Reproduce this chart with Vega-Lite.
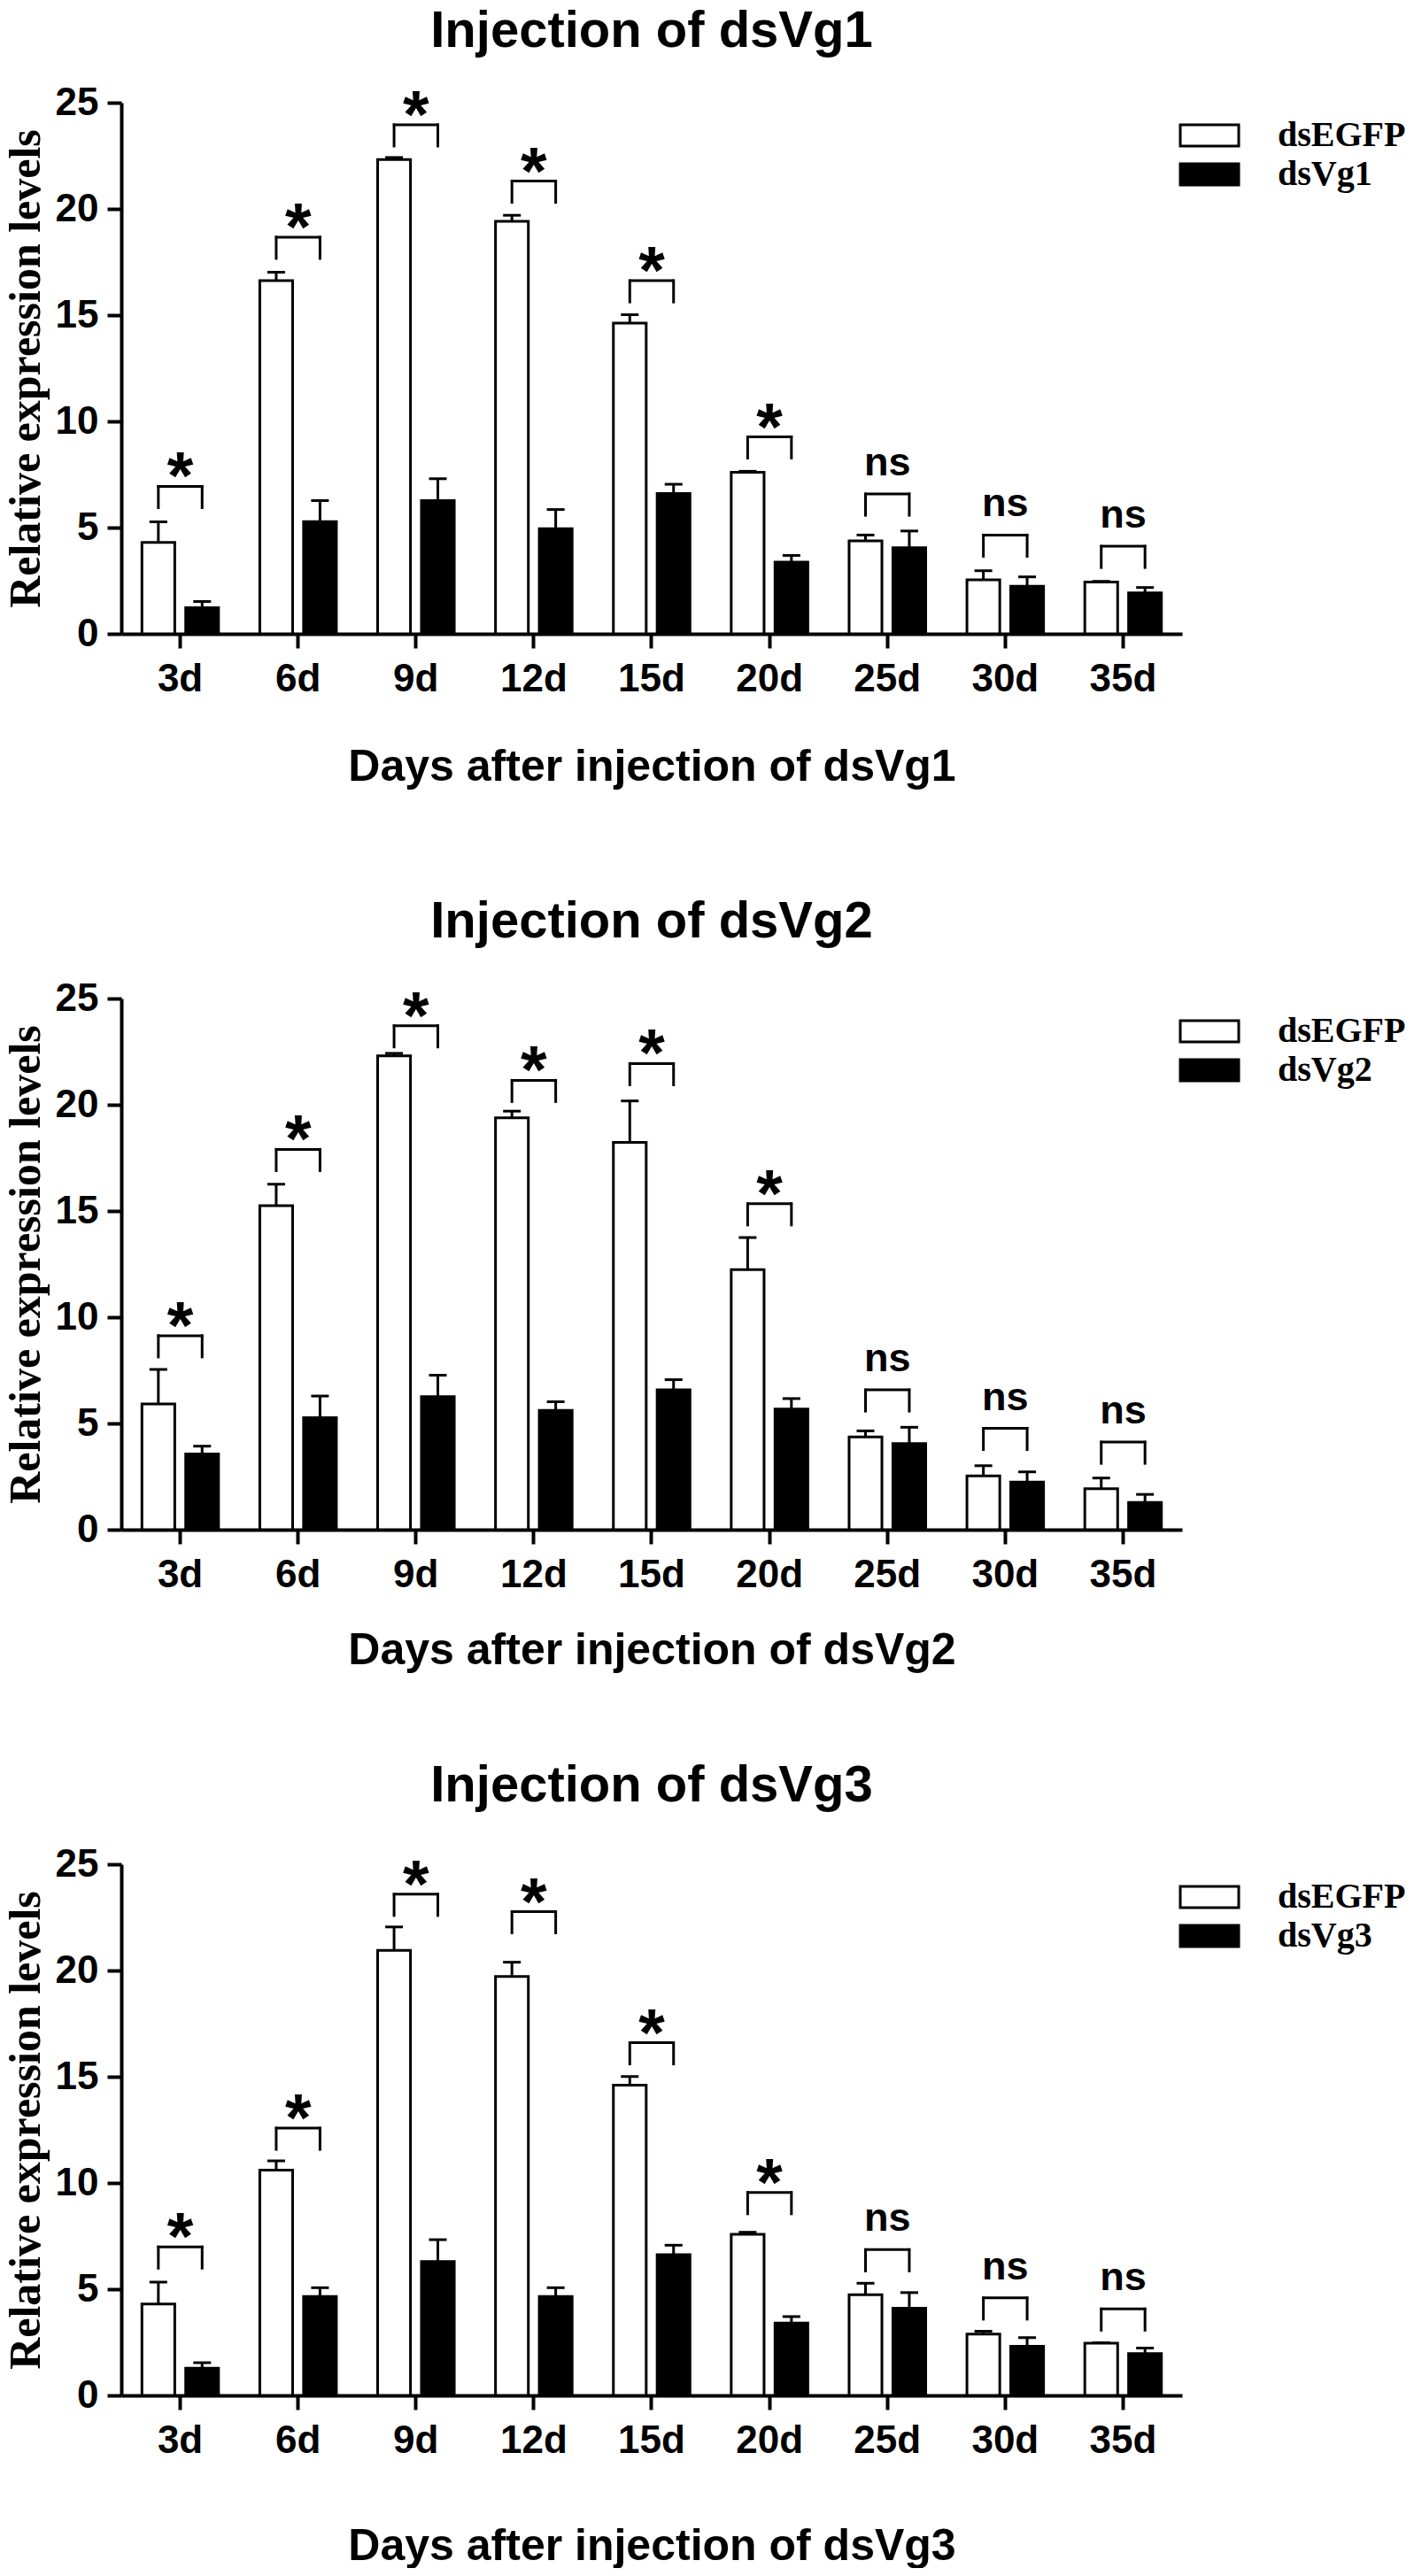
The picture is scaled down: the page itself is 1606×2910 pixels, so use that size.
{
  "$schema": "https://vega.github.io/schema/vega-lite/v6.json",
  "background": "white",
  "padding": {"left": 4, "top": 6, "right": 0, "bottom": 0},
  "datasets": {
    "vg1": [
      {"day": "3d", "treatment": "dsEGFP", "value": 4.3, "upper": 5.27},
      {"day": "3d", "treatment": "dsVg1", "value": 1.23, "upper": 1.52},
      {"day": "6d", "treatment": "dsEGFP", "value": 16.62, "upper": 17.02},
      {"day": "6d", "treatment": "dsVg1", "value": 5.28, "upper": 6.27},
      {"day": "9d", "treatment": "dsEGFP", "value": 22.32, "upper": 22.42},
      {"day": "9d", "treatment": "dsVg1", "value": 6.27, "upper": 7.3},
      {"day": "12d", "treatment": "dsEGFP", "value": 19.42, "upper": 19.7},
      {"day": "12d", "treatment": "dsVg1", "value": 4.95, "upper": 5.85},
      {"day": "15d", "treatment": "dsEGFP", "value": 14.63, "upper": 15.02},
      {"day": "15d", "treatment": "dsVg1", "value": 6.6, "upper": 7.04},
      {"day": "20d", "treatment": "dsEGFP", "value": 7.6, "upper": 7.65},
      {"day": "20d", "treatment": "dsVg1", "value": 3.37, "upper": 3.69},
      {"day": "25d", "treatment": "dsEGFP", "value": 4.38, "upper": 4.65},
      {"day": "25d", "treatment": "dsVg1", "value": 4.05, "upper": 4.84},
      {"day": "30d", "treatment": "dsEGFP", "value": 2.54, "upper": 2.97},
      {"day": "30d", "treatment": "dsVg1", "value": 2.24, "upper": 2.68},
      {"day": "35d", "treatment": "dsEGFP", "value": 2.44, "upper": 2.47},
      {"day": "35d", "treatment": "dsVg1", "value": 1.93, "upper": 2.18}
    ],
    "sig1": [
      {"day": "3d", "bracket": 6.94, "label": "*"},
      {"day": "6d", "bracket": 18.67, "label": "*"},
      {"day": "9d", "bracket": 23.96, "label": "*"},
      {"day": "12d", "bracket": 21.31, "label": "*"},
      {"day": "15d", "bracket": 16.62, "label": "*"},
      {"day": "20d", "bracket": 9.27, "label": "*"},
      {"day": "25d", "bracket": 6.58, "label": "ns"},
      {"day": "30d", "bracket": 4.65, "label": "ns"},
      {"day": "35d", "bracket": 4.12, "label": "ns"}
    ],
    "vg2": [
      {"day": "3d", "treatment": "dsEGFP", "value": 5.92, "upper": 7.54},
      {"day": "3d", "treatment": "dsVg2", "value": 3.56, "upper": 3.93},
      {"day": "6d", "treatment": "dsEGFP", "value": 15.25, "upper": 16.26},
      {"day": "6d", "treatment": "dsVg2", "value": 5.27, "upper": 6.29},
      {"day": "9d", "treatment": "dsEGFP", "value": 22.3, "upper": 22.42},
      {"day": "9d", "treatment": "dsVg2", "value": 6.26, "upper": 7.27},
      {"day": "12d", "treatment": "dsEGFP", "value": 19.39, "upper": 19.7},
      {"day": "12d", "treatment": "dsVg2", "value": 5.61, "upper": 6.02},
      {"day": "15d", "treatment": "dsEGFP", "value": 18.23, "upper": 20.18},
      {"day": "15d", "treatment": "dsVg2", "value": 6.58, "upper": 7.06},
      {"day": "20d", "treatment": "dsEGFP", "value": 12.24, "upper": 13.75},
      {"day": "20d", "treatment": "dsVg2", "value": 5.68, "upper": 6.17},
      {"day": "25d", "treatment": "dsEGFP", "value": 4.36, "upper": 4.65},
      {"day": "25d", "treatment": "dsVg2", "value": 4.05, "upper": 4.82},
      {"day": "30d", "treatment": "dsEGFP", "value": 2.53, "upper": 3.01},
      {"day": "30d", "treatment": "dsVg2", "value": 2.24, "upper": 2.72},
      {"day": "35d", "treatment": "dsEGFP", "value": 1.93, "upper": 2.43},
      {"day": "35d", "treatment": "dsVg2", "value": 1.28, "upper": 1.66}
    ],
    "sig2": [
      {"day": "3d", "bracket": 9.13, "label": "*"},
      {"day": "6d", "bracket": 17.9, "label": "*"},
      {"day": "9d", "bracket": 23.72, "label": "*"},
      {"day": "12d", "bracket": 21.15, "label": "*"},
      {"day": "15d", "bracket": 21.94, "label": "*"},
      {"day": "20d", "bracket": 15.34, "label": "*"},
      {"day": "25d", "bracket": 6.58, "label": "ns"},
      {"day": "30d", "bracket": 4.77, "label": "ns"},
      {"day": "35d", "bracket": 4.12, "label": "ns"}
    ],
    "vg3": [
      {"day": "3d", "treatment": "dsEGFP", "value": 4.3, "upper": 5.33},
      {"day": "3d", "treatment": "dsVg3", "value": 1.28, "upper": 1.54},
      {"day": "6d", "treatment": "dsEGFP", "value": 10.6, "upper": 11.04},
      {"day": "6d", "treatment": "dsVg3", "value": 4.66, "upper": 5.07},
      {"day": "9d", "treatment": "dsEGFP", "value": 20.95, "upper": 22.05},
      {"day": "9d", "treatment": "dsVg3", "value": 6.3, "upper": 7.33},
      {"day": "12d", "treatment": "dsEGFP", "value": 19.72, "upper": 20.39},
      {"day": "12d", "treatment": "dsVg3", "value": 4.66, "upper": 5.07},
      {"day": "15d", "treatment": "dsEGFP", "value": 14.6, "upper": 15.01},
      {"day": "15d", "treatment": "dsVg3", "value": 6.63, "upper": 7.07},
      {"day": "20d", "treatment": "dsEGFP", "value": 7.58, "upper": 7.68},
      {"day": "20d", "treatment": "dsVg3", "value": 3.41, "upper": 3.71},
      {"day": "25d", "treatment": "dsEGFP", "value": 4.74, "upper": 5.28},
      {"day": "25d", "treatment": "dsVg3", "value": 4.1, "upper": 4.84},
      {"day": "30d", "treatment": "dsEGFP", "value": 2.89, "upper": 3.02},
      {"day": "30d", "treatment": "dsVg3", "value": 2.31, "upper": 2.72},
      {"day": "35d", "treatment": "dsEGFP", "value": 2.46, "upper": 2.48},
      {"day": "35d", "treatment": "dsVg3", "value": 1.97, "upper": 2.23}
    ],
    "sig3": [
      {"day": "3d", "bracket": 6.99, "label": "*"},
      {"day": "6d", "bracket": 12.58, "label": "*"},
      {"day": "9d", "bracket": 23.59, "label": "*"},
      {"day": "12d", "bracket": 22.77, "label": "*"},
      {"day": "15d", "bracket": 16.6, "label": "*"},
      {"day": "20d", "bracket": 9.55, "label": "*"},
      {"day": "25d", "bracket": 6.86, "label": "ns"},
      {"day": "30d", "bracket": 4.59, "label": "ns"},
      {"day": "35d", "bracket": 4.07, "label": "ns"}
    ]
  },
  "spacing": 99,
  "resolve": {"scale": {"fill": "independent", "xOffset": "independent"}, "legend": {"fill": "independent"}},
  "vconcat": [
    {
      "spacing": 121,
      "resolve": {"scale": {"fill": "independent", "xOffset": "independent"}, "legend": {"fill": "independent"}},
      "vconcat": [
        {
          "width": 1198,
          "height": 600,
          "title": {"text": "Injection of dsVg1", "frame": "group", "anchor": "middle", "offset": 29},
          "encoding": {
            "x": {
              "field": "day", "type": "nominal",
              "scale": {"domain": ["3d", "6d", "9d", "12d", "15d", "20d", "25d", "30d", "35d"], "paddingInner": 0.35, "paddingOuter": 0.175},
              "axis": {"title": "Days after injection of dsVg1", "titlePadding": 52}
            }
          },
          "layer": [
            {
              "data": {"name": "vg1"},
              "mark": {"type": "bar", "stroke": "black", "strokeWidth": 3},
              "encoding": {
                "xOffset": {"field": "treatment", "type": "nominal", "scale": {"domain": ["dsEGFP", "dsVg1"], "paddingInner": 0.25}},
                "y": {"field": "value", "type": "quantitative", "title": "Relative expression levels", "scale": {"domain": [0, 25]}, "axis": {"values": [0, 5, 10, 15, 20, 25]}},
                "fill": {"field": "treatment", "type": "nominal", "scale": {"domain": ["dsEGFP", "dsVg1"], "range": ["white", "black"]}, "legend": {"title": null}}
              }
            },
            {
              "data": {"name": "vg1"},
              "mark": {"type": "rule", "strokeWidth": 3, "color": "black"},
              "encoding": {
                "xOffset": {"field": "treatment", "type": "nominal", "scale": {"domain": ["dsEGFP", "dsVg1"], "paddingInner": 0.25}},
                "y": {"field": "value", "type": "quantitative", "title": "Relative expression levels", "scale": {"domain": [0, 25]}},
                "y2": {"field": "upper"}
              }
            },
            {
              "data": {"name": "vg1"},
              "mark": {"type": "tick", "size": 20, "thickness": 3, "color": "black", "opacity": 1},
              "encoding": {
                "xOffset": {"field": "treatment", "type": "nominal", "scale": {"domain": ["dsEGFP", "dsVg1"], "paddingInner": 0.25}},
                "y": {"field": "upper", "type": "quantitative", "title": "Relative expression levels", "scale": {"domain": [0, 25]}}
              }
            },
            {
              "data": {"name": "vg1"},
              "transform": [{"lookup": "day", "from": {"data": {"name": "sig1"}, "key": "day", "fields": ["bracket"]}}],
              "mark": {"type": "tick", "orient": "vertical", "size": 27, "thickness": 3, "yOffset": 12, "color": "black", "opacity": 1},
              "encoding": {
                "xOffset": {"field": "treatment", "type": "nominal", "scale": {"domain": ["dsEGFP", "dsVg1"], "paddingInner": 0.25}},
                "y": {"field": "bracket", "type": "quantitative", "title": "Relative expression levels", "scale": {"domain": [0, 25]}}
              }
            },
            {
              "data": {"name": "sig1"},
              "mark": {"type": "tick", "size": 52, "thickness": 3, "color": "black", "opacity": 1},
              "encoding": {
                "y": {"field": "bracket", "type": "quantitative", "title": "Relative expression levels", "scale": {"domain": [0, 25]}}
              }
            },
            {
              "data": {"name": "sig1"},
              "transform": [{"filter": "datum.label == '*'"}],
              "mark": {"type": "text", "font": "Liberation Sans", "fontWeight": "bold", "fontSize": 76, "baseline": "alphabetic", "dy": 14, "color": "black"},
              "encoding": {
                "y": {"field": "bracket", "type": "quantitative", "title": "Relative expression levels", "scale": {"domain": [0, 25]}},
                "text": {"field": "label"}
              }
            },
            {
              "data": {"name": "sig1"},
              "transform": [{"filter": "datum.label == 'ns'"}],
              "mark": {"type": "text", "font": "Liberation Sans", "fontWeight": "bold", "fontSize": 45, "baseline": "alphabetic", "dy": -21, "color": "black"},
              "encoding": {
                "y": {"field": "bracket", "type": "quantitative", "title": "Relative expression levels", "scale": {"domain": [0, 25]}},
                "text": {"field": "label"}
              }
            }
          ]
        },
        {
          "width": 1198,
          "height": 600,
          "title": {"text": "Injection of dsVg2", "frame": "group", "anchor": "middle", "offset": 35.5},
          "encoding": {
            "x": {
              "field": "day", "type": "nominal",
              "scale": {"domain": ["3d", "6d", "9d", "12d", "15d", "20d", "25d", "30d", "35d"], "paddingInner": 0.35, "paddingOuter": 0.175},
              "axis": {"title": "Days after injection of dsVg2", "titlePadding": 38.5}
            }
          },
          "layer": [
            {
              "data": {"name": "vg2"},
              "mark": {"type": "bar", "stroke": "black", "strokeWidth": 3},
              "encoding": {
                "xOffset": {"field": "treatment", "type": "nominal", "scale": {"domain": ["dsEGFP", "dsVg2"], "paddingInner": 0.25}},
                "y": {"field": "value", "type": "quantitative", "title": "Relative expression levels", "scale": {"domain": [0, 25]}, "axis": {"values": [0, 5, 10, 15, 20, 25]}},
                "fill": {"field": "treatment", "type": "nominal", "scale": {"domain": ["dsEGFP", "dsVg2"], "range": ["white", "black"]}, "legend": {"title": null}}
              }
            },
            {
              "data": {"name": "vg2"},
              "mark": {"type": "rule", "strokeWidth": 3, "color": "black"},
              "encoding": {
                "xOffset": {"field": "treatment", "type": "nominal", "scale": {"domain": ["dsEGFP", "dsVg2"], "paddingInner": 0.25}},
                "y": {"field": "value", "type": "quantitative", "title": "Relative expression levels", "scale": {"domain": [0, 25]}},
                "y2": {"field": "upper"}
              }
            },
            {
              "data": {"name": "vg2"},
              "mark": {"type": "tick", "size": 20, "thickness": 3, "color": "black", "opacity": 1},
              "encoding": {
                "xOffset": {"field": "treatment", "type": "nominal", "scale": {"domain": ["dsEGFP", "dsVg2"], "paddingInner": 0.25}},
                "y": {"field": "upper", "type": "quantitative", "title": "Relative expression levels", "scale": {"domain": [0, 25]}}
              }
            },
            {
              "data": {"name": "vg2"},
              "transform": [{"lookup": "day", "from": {"data": {"name": "sig2"}, "key": "day", "fields": ["bracket"]}}],
              "mark": {"type": "tick", "orient": "vertical", "size": 27, "thickness": 3, "yOffset": 12, "color": "black", "opacity": 1},
              "encoding": {
                "xOffset": {"field": "treatment", "type": "nominal", "scale": {"domain": ["dsEGFP", "dsVg2"], "paddingInner": 0.25}},
                "y": {"field": "bracket", "type": "quantitative", "title": "Relative expression levels", "scale": {"domain": [0, 25]}}
              }
            },
            {
              "data": {"name": "sig2"},
              "mark": {"type": "tick", "size": 52, "thickness": 3, "color": "black", "opacity": 1},
              "encoding": {
                "y": {"field": "bracket", "type": "quantitative", "title": "Relative expression levels", "scale": {"domain": [0, 25]}}
              }
            },
            {
              "data": {"name": "sig2"},
              "transform": [{"filter": "datum.label == '*'"}],
              "mark": {"type": "text", "font": "Liberation Sans", "fontWeight": "bold", "fontSize": 76, "baseline": "alphabetic", "dy": 14, "color": "black"},
              "encoding": {
                "y": {"field": "bracket", "type": "quantitative", "title": "Relative expression levels", "scale": {"domain": [0, 25]}},
                "text": {"field": "label"}
              }
            },
            {
              "data": {"name": "sig2"},
              "transform": [{"filter": "datum.label == 'ns'"}],
              "mark": {"type": "text", "font": "Liberation Sans", "fontWeight": "bold", "fontSize": 45, "baseline": "alphabetic", "dy": -21, "color": "black"},
              "encoding": {
                "y": {"field": "bracket", "type": "quantitative", "title": "Relative expression levels", "scale": {"domain": [0, 25]}},
                "text": {"field": "label"}
              }
            }
          ]
        }
      ]
    },
    {
      "width": 1198,
      "height": 600,
      "title": {"text": "Injection of dsVg3", "frame": "group", "anchor": "middle", "offset": 37},
      "encoding": {
        "x": {
          "field": "day", "type": "nominal",
          "scale": {"domain": ["3d", "6d", "9d", "12d", "15d", "20d", "25d", "30d", "35d"], "paddingInner": 0.35, "paddingOuter": 0.175},
          "axis": {"title": "Days after injection of dsVg3", "titlePadding": 72}
        }
      },
      "layer": [
        {
          "data": {"name": "vg3"},
          "mark": {"type": "bar", "stroke": "black", "strokeWidth": 3},
          "encoding": {
            "xOffset": {"field": "treatment", "type": "nominal", "scale": {"domain": ["dsEGFP", "dsVg3"], "paddingInner": 0.25}},
            "y": {"field": "value", "type": "quantitative", "title": "Relative expression levels", "scale": {"domain": [0, 25]}, "axis": {"values": [0, 5, 10, 15, 20, 25]}},
            "fill": {"field": "treatment", "type": "nominal", "scale": {"domain": ["dsEGFP", "dsVg3"], "range": ["white", "black"]}, "legend": {"title": null}}
          }
        },
        {
          "data": {"name": "vg3"},
          "mark": {"type": "rule", "strokeWidth": 3, "color": "black"},
          "encoding": {
            "xOffset": {"field": "treatment", "type": "nominal", "scale": {"domain": ["dsEGFP", "dsVg3"], "paddingInner": 0.25}},
            "y": {"field": "value", "type": "quantitative", "title": "Relative expression levels", "scale": {"domain": [0, 25]}},
            "y2": {"field": "upper"}
          }
        },
        {
          "data": {"name": "vg3"},
          "mark": {"type": "tick", "size": 20, "thickness": 3, "color": "black", "opacity": 1},
          "encoding": {
            "xOffset": {"field": "treatment", "type": "nominal", "scale": {"domain": ["dsEGFP", "dsVg3"], "paddingInner": 0.25}},
            "y": {"field": "upper", "type": "quantitative", "title": "Relative expression levels", "scale": {"domain": [0, 25]}}
          }
        },
        {
          "data": {"name": "vg3"},
          "transform": [{"lookup": "day", "from": {"data": {"name": "sig3"}, "key": "day", "fields": ["bracket"]}}],
          "mark": {"type": "tick", "orient": "vertical", "size": 27, "thickness": 3, "yOffset": 12, "color": "black", "opacity": 1},
          "encoding": {
            "xOffset": {"field": "treatment", "type": "nominal", "scale": {"domain": ["dsEGFP", "dsVg3"], "paddingInner": 0.25}},
            "y": {"field": "bracket", "type": "quantitative", "title": "Relative expression levels", "scale": {"domain": [0, 25]}}
          }
        },
        {
          "data": {"name": "sig3"},
          "mark": {"type": "tick", "size": 52, "thickness": 3, "color": "black", "opacity": 1},
          "encoding": {
            "y": {"field": "bracket", "type": "quantitative", "title": "Relative expression levels", "scale": {"domain": [0, 25]}}
          }
        },
        {
          "data": {"name": "sig3"},
          "transform": [{"filter": "datum.label == '*'"}],
          "mark": {"type": "text", "font": "Liberation Sans", "fontWeight": "bold", "fontSize": 76, "baseline": "alphabetic", "dy": 14, "color": "black"},
          "encoding": {
            "y": {"field": "bracket", "type": "quantitative", "title": "Relative expression levels", "scale": {"domain": [0, 25]}},
            "text": {"field": "label"}
          }
        },
        {
          "data": {"name": "sig3"},
          "transform": [{"filter": "datum.label == 'ns'"}],
          "mark": {"type": "text", "font": "Liberation Sans", "fontWeight": "bold", "fontSize": 45, "baseline": "alphabetic", "dy": -21, "color": "black"},
          "encoding": {
            "y": {"field": "bracket", "type": "quantitative", "title": "Relative expression levels", "scale": {"domain": [0, 25]}},
            "text": {"field": "label"}
          }
        }
      ]
    }
  ],
  "config": {
    "view": {"stroke": null},
    "font": "Liberation Sans",
    "axis": {
      "grid": false,
      "domainColor": "black",
      "domainWidth": 4,
      "tickColor": "black",
      "tickWidth": 4,
      "tickSize": 16,
      "labelColor": "black",
      "labelFont": "Liberation Sans",
      "labelFontSize": 44,
      "labelFontWeight": "bold",
      "titleColor": "black"
    },
    "axisX": {
      "labelAngle": 0,
      "labelPadding": 13,
      "titleFont": "Liberation Sans",
      "titleFontSize": 50,
      "titleFontWeight": "bold"
    },
    "axisY": {
      "labelPadding": 10,
      "titleFont": "Liberation Serif",
      "titleFontSize": 50,
      "titleFontWeight": "bold",
      "titlePadding": 8
    },
    "title": {"font": "Liberation Sans", "fontSize": 58, "fontWeight": "bold", "color": "black"},
    "legend": {
      "orient": "right",
      "offset": -6,
      "padding": 17,
      "labelFont": "Liberation Serif",
      "labelFontSize": 40,
      "labelFontWeight": "bold",
      "labelColor": "black",
      "labelOffset": 57,
      "rowPadding": 4,
      "symbolType": "M-2.75,-1H2.75V1H-2.75Z",
      "symbolSize": 576,
      "symbolStrokeColor": "black",
      "symbolStrokeWidth": 3,
      "symbolOpacity": 1
    }
  }
}
